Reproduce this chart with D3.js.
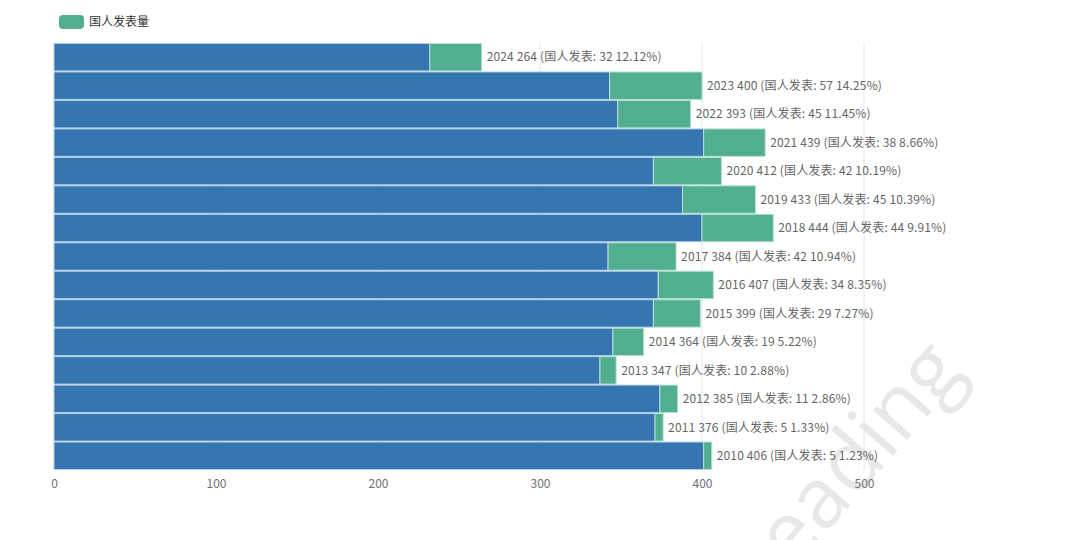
<!DOCTYPE html>
<html><head><meta charset="utf-8">
<script src="https://cdn.jsdelivr.net/npm/d3@7"></script>
<style>body{margin:0;background:#fff;} svg{display:block;}</style>
</head><body>
<svg id="c" width="1080" height="540"></svg>
<script>
const years = [2010,2011,2012,2013,2014,2015,2016,2017,2018,2019,2020,2021,2022,2023,2024];
const totals = [406,376,385,347,364,399,407,384,444,433,412,439,393,400,264];
const domestic = [5,5,11,10,19,29,34,42,44,45,42,38,45,57,32];
const xTicks = [0,100,200,300,400,500];
const legendLabel = "国人发表量";
const labelPrefix = "国人发表";
const watermark = "Reading";

const svg = d3.select("#c");
const font = "'Microsoft YaHei','Noto Sans CJK SC',sans-serif";
const x = d3.scaleLinear().domain([0,500]).range([54,864]);
const y = d3.scaleBand().domain(years.slice().reverse().map(String)).range([43,470]).padding(0);

// watermark
svg.append("text").attr("transform","translate(966,372) rotate(-49)")
  .attr("text-anchor","end").attr("font-family","'Open Sans',sans-serif").attr("font-size",84)
  .attr("fill","#e8e8e8").text(watermark);

// grid
svg.append("g").selectAll("line").data(xTicks.slice(1)).join("line")
  .attr("x1",d=>x(d)).attr("x2",d=>x(d)).attr("y1",43).attr("y2",470)
  .attr("stroke","#e0e6f1").attr("stroke-width",1);

const data = years.map((yr,i)=>({yr:String(yr), total:totals[i], dom:domestic[i]}));
const g = svg.append("g");
g.selectAll("rect.b").data(data).join("rect").attr("class","b")
  .attr("x",x(0)).attr("y",d=>y(d.yr)+0.5)
  .attr("width",d=>x(d.total-d.dom)-x(0)).attr("height",y.bandwidth()-1)
  .attr("fill","#3576b0").attr("stroke","#b4d0e8").attr("stroke-width",1);
g.selectAll("rect.gr").data(data).join("rect").attr("class","gr")
  .attr("x",d=>x(d.total-d.dom)).attr("y",d=>y(d.yr)+0.5)
  .attr("width",d=>x(d.total)-x(d.total-d.dom)).attr("height",y.bandwidth()-1)
  .attr("fill","#52ae91").attr("stroke","#b9e0d2").attr("stroke-width",1);

g.selectAll("text.l").data(data).join("text").attr("class","l")
  .attr("x",d=>x(d.total)+5).attr("y",d=>y(d.yr)+y.bandwidth()/2)
  .attr("dy","0.35em").attr("font-family",font).attr("font-size",12).attr("fill","#666")
  .attr("letter-spacing",0.15)
  .text(d=>`${d.yr} ${d.total} (${labelPrefix}: ${d.dom} ${(d.dom/d.total*100).toFixed(2)}%)`);

// x axis
const ax = svg.append("g").attr("transform","translate(0,470)")
  .call(d3.axisBottom(x).tickValues(xTicks).tickSize(0).tickPadding(9));
ax.select(".domain").remove();
ax.selectAll("text").attr("font-family",font).attr("font-size",12).attr("fill","#6e7079");

// legend
svg.append("rect").attr("x",59).attr("y",15).attr("width",25).attr("height",14).attr("rx",4).attr("fill","#52ae91");
svg.append("text").attr("x",89).attr("y",22).attr("dy","0.35em").attr("font-family",font)
  .attr("font-size",12).attr("fill","#333").text(legendLabel);
</script>
</body></html>
